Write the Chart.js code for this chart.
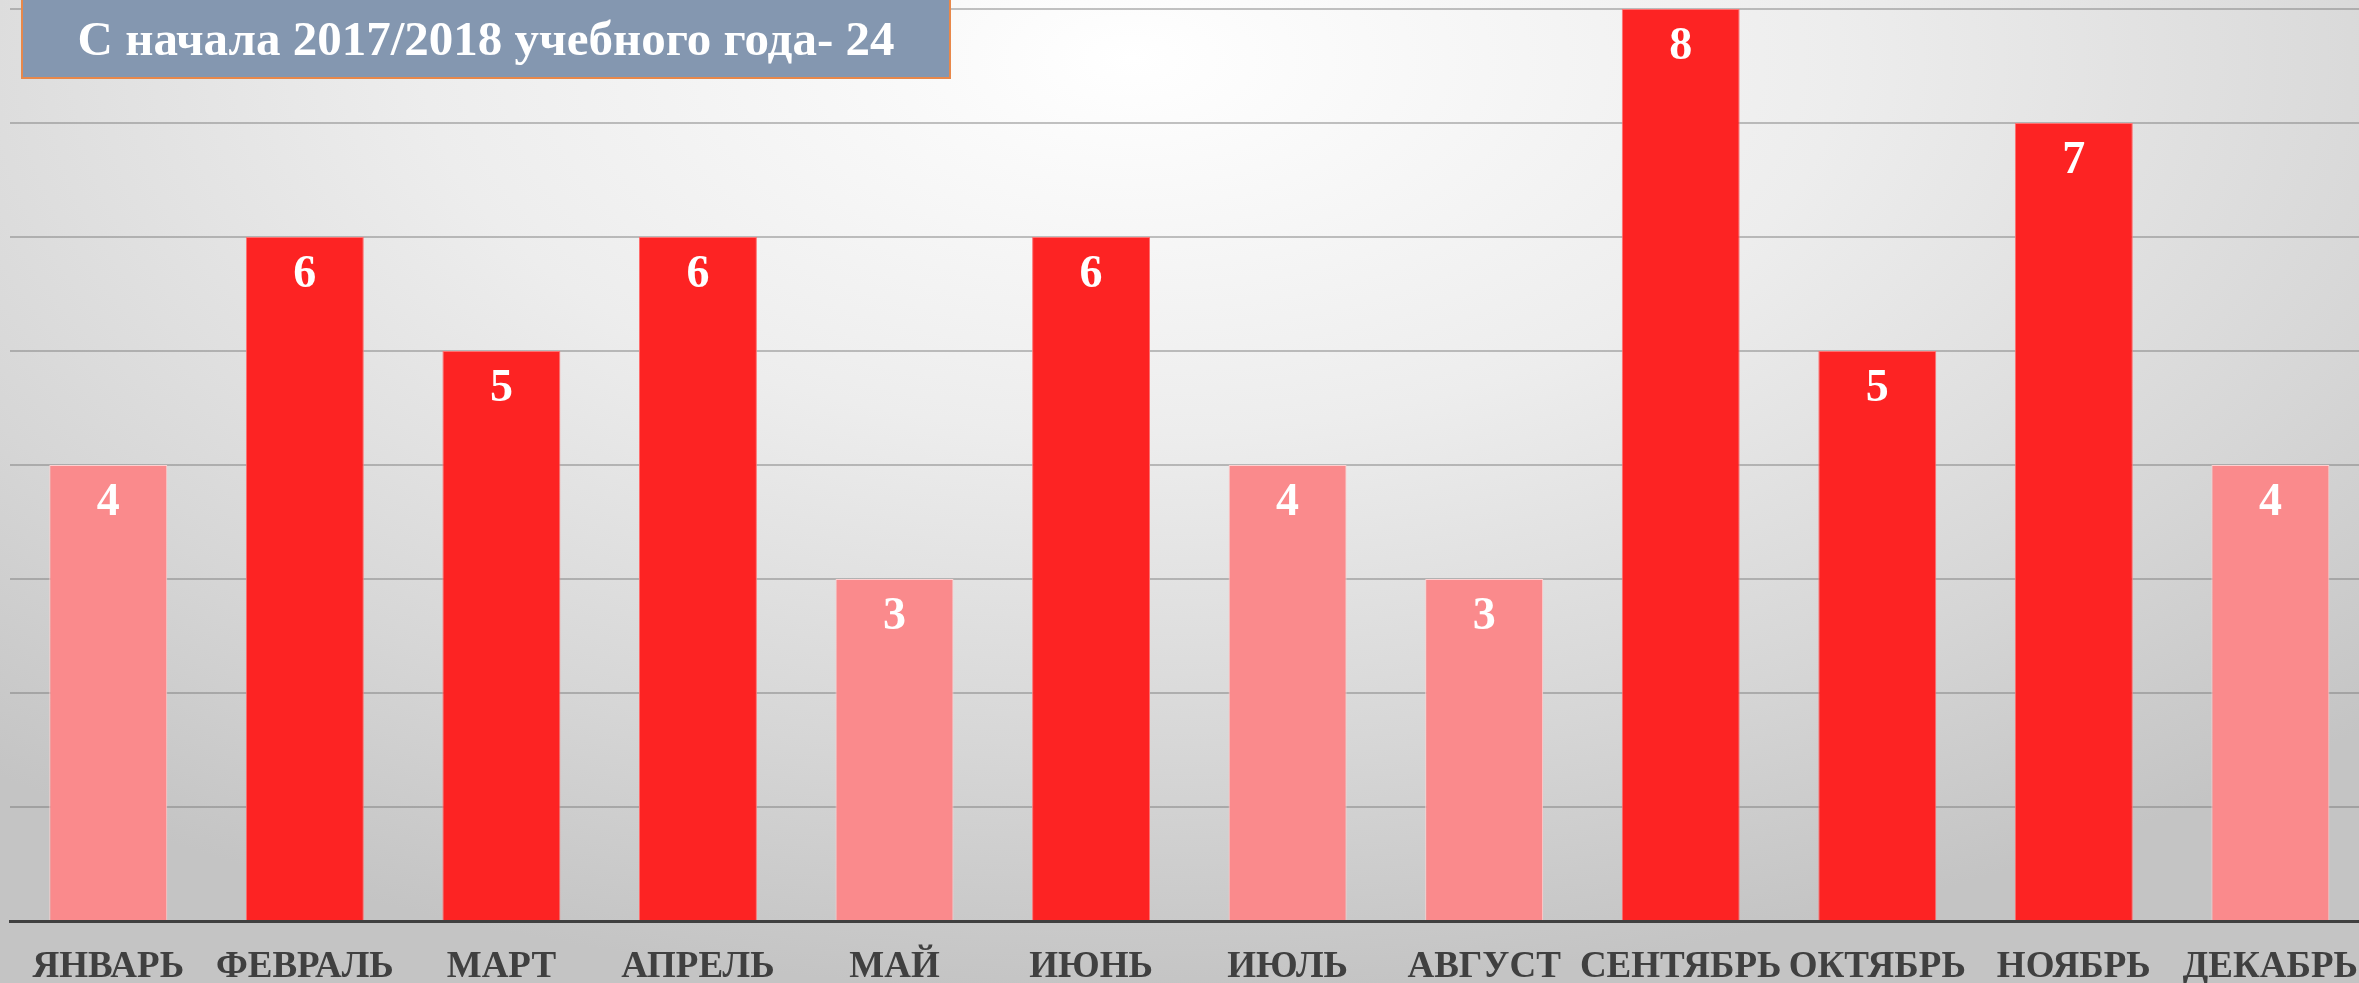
<!DOCTYPE html>
<html>
<head>
<meta charset="utf-8">
<script src="https://cdn.jsdelivr.net/npm/chart.js@4/dist/chart.umd.min.js"></script>
<style>
  html, body { margin: 0; padding: 0; overflow: hidden; }
  body {
    width: 2359px; height: 983px;
    background: radial-gradient(ellipse 75% 95% at 48% 6%, #ffffff 0%, #ededed 40%, #d6d6d6 75%, #c4c4c4 100%);
  }
  #wrap { position: absolute; left: 0; top: 0; width: 2382px; height: 983px; }
  #title {
    position: absolute; left: 21px; top: 0; width: 926px; height: 77px;
    background: #8497b0; border: 2px solid #e8884a; border-top: none;
    color: #fff; font: bold 49px "Liberation Serif", serif;
    display: flex; align-items: center; justify-content: center;
  }
</style>
</head>
<body>
<div id="wrap"><canvas id="myChart"></canvas></div>
<div id="title">С начала 2017/2018 учебного года- 24</div>
<script>
var months = ['ЯНВАРЬ', 'ФЕВРАЛЬ', 'МАРТ', 'АПРЕЛЬ', 'МАЙ', 'ИЮНЬ', 'ИЮЛЬ', 'АВГУСТ', 'СЕНТЯБРЬ', 'ОКТЯБРЬ', 'НОЯБРЬ', 'ДЕКАБРЬ'];
var counts = [4, 6, 5, 6, 3, 6, 4, 3, 8, 5, 7, 4];
var yMax = 8;

// bars with few cases are drawn pale
var colors = counts.map((v) => v >= 5 ? '#fd2323' : '#fa8a8c');
var borders = counts.map((v) => v >= 5 ? '#ff7070' : '#ffd0d0');

const valueLabels = {
    id: 'valueLabels',
    afterDatasetsDraw(chart) {
        const ctx = chart.ctx;
        const meta = chart.getDatasetMeta(0);
        ctx.save();
        ctx.fillStyle = '#ffffff';
        ctx.font = 'bold 46px "Liberation Serif", serif';
        ctx.textAlign = 'center';
        ctx.textBaseline = 'middle';
        meta.data.forEach((bar, i) => {
            ctx.fillText(counts[i], bar.x, bar.y + 38);
        });
        ctx.restore();
    }
};

function createChart() {
    const ctx = document.getElementById('myChart');
    new Chart(ctx, {
        type: 'bar',
        data: {
            labels: months,
            datasets: [{
                data: counts,
                backgroundColor: colors,
                borderColor: borders,
                borderWidth: 1,
                categoryPercentage: 1,
                barPercentage: 0.6
            }]
        },
        options: {
            responsive: true,
            maintainAspectRatio: false,
            animation: false,
            layout: { padding: { top: 9, left: 10, right: 0, bottom: 0 } },
            plugins: {
                legend: { display: false },
                tooltip: { enabled: false }
            },
            scales: {
                x: {
                    grid: { display: false, drawTicks: false },
                    border: { color: '#404040', width: 3 },
                    ticks: {
                        color: '#404040',
                        padding: 24,
                        maxRotation: 0,
                        autoSkip: false,
                        font: { family: '"Liberation Serif", serif', size: 37, weight: 'bold' }
                    },
                    afterFit(scale) { scale.height = 62; }
                },
                y: {
                    min: 0,
                    max: yMax,
                    ticks: { display: false, stepSize: 1 },
                    border: { display: false },
                    grid: { color: 'rgba(120,120,120,0.45)', lineWidth: 2, drawTicks: false },
                    afterFit(scale) { scale.width = 0; }
                }
            }
        },
        plugins: [valueLabels]
    });
}
createChart();
</script>
</body>
</html>
